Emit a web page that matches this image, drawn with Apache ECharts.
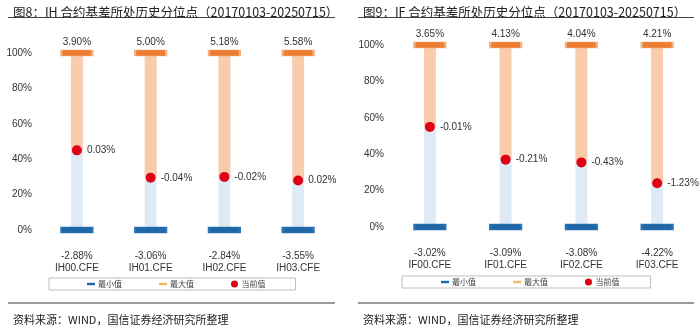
<!DOCTYPE html>
<html>
<head>
<meta charset="utf-8">
<script src="https://cdn.jsdelivr.net/npm/echarts@6/dist/echarts.min.js"></script>
<style>
html,body{margin:0;padding:0;background:#fff;}
#c{width:700px;height:331px;}
</style>
</head>
<body>
<div id="c"></div>
<script>
// ---- data ----
var ihCategories = ['IH00.CFE', 'IH01.CFE', 'IH02.CFE', 'IH03.CFE'];
var ihMaxBasis = [3.90, 5.00, 5.18, 5.58];
var ihMinBasis = [-2.88, -3.06, -2.84, -3.55];
var ihCurBasis = [0.03, -0.04, -0.02, 0.02];
var ihCurPct = [45, 29.5, 30, 28];
var ihMaxPct = [100, 100, 100, 100];
var ihMinPct = [0, 0, 0, 0];

var ifCategories = ['IF00.CFE', 'IF01.CFE', 'IF02.CFE', 'IF03.CFE'];
var ifMaxBasis = [3.65, 4.13, 4.04, 4.21];
var ifMinBasis = [-3.02, -3.09, -3.08, -4.22];
var ifCurBasis = [-0.01, -0.21, -0.43, -1.23];
var ifCurPct = [55, 37, 35.5, 24];
var ifMaxPct = [100, 100, 100, 100];
var ifMinPct = [0, 0, 0, 0];

var yTicks = [0, 20, 40, 60, 80, 100];
var legendNames = ['最小值', '最大值', '当前值'];

// ---- styles ----
var FONT = 'Liberation Sans, Arial, sans-serif';
var CJK = 'Noto Sans CJK SC, sans-serif';
var TXT = '#333333';
var C_MIN = '#1f67a6', C_MAX = '#ed7d31', C_CUR = '#e00016';
var C_LOW = '#deebf7', C_UP = '#f8cbad';

function pct(v) { return v.toFixed(2) + '%'; }

function buildChart(gi, cats, maxB, minB, curB, curPct, maxPct, minPct) {
  var xAxis = {
    type: 'category', gridIndex: gi, data: cats,
    axisLine: {show: false}, axisTick: {show: false},
    axisLabel: {
      margin: 20, fontSize: 10, lineHeight: 12, color: TXT, fontFamily: FONT,
      formatter: function (v, i) { return pct(minB[i]) + '\n' + v; }
    }
  };
  var yAxis = {
    type: 'value', gridIndex: gi, min: 0, max: 100, interval: 20,
    axisLine: {show: false}, axisTick: {show: false}, splitLine: {show: false},
    axisLabel: {margin: 8, fontSize: 10, color: TXT, fontFamily: FONT, formatter: '{value}%'}
  };
  var low = curPct.slice();
  var up = curPct.map(function (v, i) { return maxPct[i] - v; });
  var series = [
    {type: 'bar', xAxisIndex: gi, yAxisIndex: gi, stack: 's' + gi, barWidth: 12,
     data: low, itemStyle: {color: C_LOW}, silent: true},
    {type: 'bar', xAxisIndex: gi, yAxisIndex: gi, stack: 's' + gi, barWidth: 12,
     data: up, itemStyle: {color: C_UP}, silent: true},
    {name: '最小值', type: 'scatter', xAxisIndex: gi, yAxisIndex: gi, clip: false,
     symbol: 'rect', symbolSize: [31, 6], data: minPct,
     itemStyle: {color: C_MIN, borderColor: '#2e75b6', borderWidth: 1, opacity: 1}},
    {name: '最大值', type: 'scatter', xAxisIndex: gi, yAxisIndex: gi, clip: false,
     symbol: 'rect', symbolSize: [31, 6], data: maxPct,
     itemStyle: {color: C_MAX, borderColor: '#f4b183', borderWidth: 1, opacity: 1},
     label: {show: true, position: 'top', distance: 3, fontSize: 10, color: TXT, fontFamily: FONT,
             formatter: function (p) { return pct(maxB[p.dataIndex]); }}},
    {name: '当前值', type: 'scatter', xAxisIndex: gi, yAxisIndex: gi, clip: false,
     symbol: 'circle', symbolSize: 10, data: curPct, z: 5,
     itemStyle: {color: C_CUR, opacity: 1},
     label: {show: true, position: 'right', distance: 5, fontSize: 10, color: TXT, fontFamily: FONT,
             formatter: function (p) { return pct(curB[p.dataIndex]); }}}
  ];
  return {xAxis: xAxis, yAxis: yAxis, series: series};
}

var A = buildChart(0, ihCategories, ihMaxBasis, ihMinBasis, ihCurBasis, ihCurPct, ihMaxPct, ihMinPct);
var B = buildChart(1, ifCategories, ifMaxBasis, ifMinBasis, ifCurBasis, ifCurPct, ifMaxPct, ifMinPct);

function legendData() {
  return [
    {name: legendNames[0], icon: 'path://M0,0h10v3h-10z', itemStyle: {color: C_MIN, borderWidth: 0}},
    {name: legendNames[1], icon: 'path://M0,0h10v3h-10z', itemStyle: {color: '#f4b860', borderWidth: 0}},
    {name: legendNames[2], icon: 'circle', itemStyle: {color: C_CUR, borderWidth: 0}}
  ];
}
function legendCfg(left, top, padL, padR) {
  return {
    left: left, top: top, orient: 'horizontal', itemWidth: 8, itemHeight: 7, itemGap: 37,
    padding: [2, padR, 2, padL], borderColor: '#bfbfbf', borderWidth: 1,
    selectedMode: false, data: legendData(),
    textStyle: {fontSize: 8, color: '#404040', fontFamily: CJK, padding: [0, 0, 0, -2]}
  };
}

var chart = echarts.init(document.getElementById('c'), null, {renderer: 'canvas'});
chart.setOption({
  animation: false,
  backgroundColor: '#ffffff',
  title: [
    {text: '图8：IH 合约基差所处历史分位点（20170103-20250715）', left: 8, top: 1,
     textStyle: {fontSize: 12.5, fontWeight: 'normal', color: '#222', fontFamily: CJK}},
    {text: '图9：IF 合约基差所处历史分位点（20170103-20250715）', left: 358, top: 1,
     textStyle: {fontSize: 12.5, fontWeight: 'normal', color: '#222', fontFamily: CJK}},
    {text: '资料来源：WIND，国信证券经济研究所整理', left: 8, top: 309,
     textStyle: {fontSize: 11, fontWeight: 'normal', color: '#222', fontFamily: CJK}},
    {text: '资料来源：WIND，国信证券经济研究所整理', left: 358, top: 309,
     textStyle: {fontSize: 11, fontWeight: 'normal', color: '#222', fontFamily: CJK}}
  ],
  legend: [legendCfg(49, 278, 38, 30), legendCfg(402, 276, 39, 31)],
  grid: [
    {left: 40, right: 365, top: 53, bottom: 101},
    {left: 392, right: 5, top: 45, bottom: 104}
  ],
  xAxis: [A.xAxis, B.xAxis],
  yAxis: [A.yAxis, B.yAxis],
  series: A.series.concat(B.series),
  graphic: [
    {type: 'line', shape: {x1: 8, y1: 17.5, x2: 335, y2: 17.5}, style: {stroke: '#444', lineWidth: 1.2}},
    {type: 'line', shape: {x1: 358, y1: 17.5, x2: 694, y2: 17.5}, style: {stroke: '#444', lineWidth: 1.2}},
    {type: 'line', shape: {x1: 8, y1: 303, x2: 335, y2: 303}, style: {stroke: '#777', lineWidth: 1.5}},
    {type: 'line', shape: {x1: 358, y1: 303, x2: 694, y2: 303}, style: {stroke: '#777', lineWidth: 1.5}}
  ]
});
</script>
</body>
</html>
